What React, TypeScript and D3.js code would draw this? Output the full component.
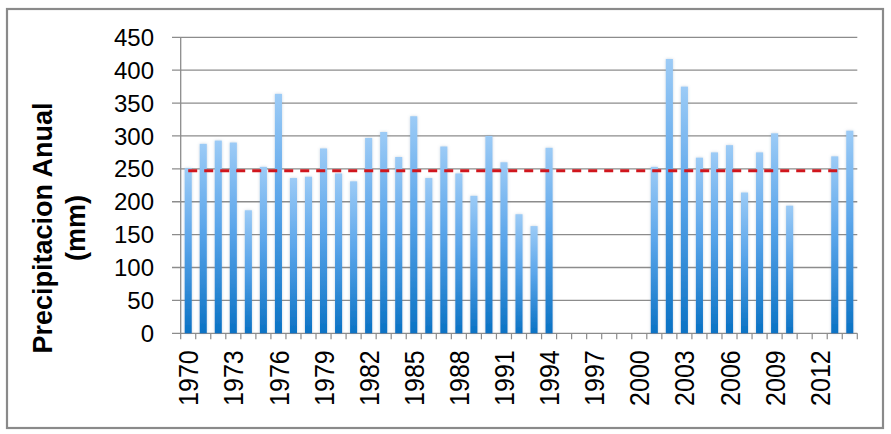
import React from 'react';
import * as d3 from 'd3';

const years: number[] = [
  1970, 1971, 1972, 1973, 1974, 1975, 1976, 1977, 1978, 1979,
  1980, 1981, 1982, 1983, 1984, 1985, 1986, 1987, 1988, 1989,
  1990, 1991, 1992, 1993, 1994, 1995, 1996, 1997, 1998, 1999,
  2000, 2001, 2002, 2003, 2004, 2005, 2006, 2007, 2008, 2009,
  2010, 2011, 2012, 2013, 2014,
];

const precip: (number | null)[] = [
  251, 288, 293, 290, 187, 253, 364, 236, 238, 281,
  243, 231, 297, 306, 268, 330, 236, 284, 243, 209,
  300, 260, 181, 163, 282, null, null, null, null, null,
  null, 253, 417, 375, 267, 275, 286, 214, 275, 304,
  194, null, null, 269, 308,
];

const meanValue = 247;

const xTickLabels: number[] = [1970, 1973, 1976, 1979, 1982, 1985, 1988, 1991, 1994, 1997, 2000, 2003, 2006, 2009, 2012];
const yTicks: number[] = [0, 50, 100, 150, 200, 250, 300, 350, 400, 450];

const FONT = '"Liberation Sans", Arial, sans-serif';

export default function App() {
  const W = 891;
  const H = 434;
  const left = 180.7;
  const right = 857.3;
  const top = 37.3;
  const bottom = 333.3;

  const x = d3.scaleBand<number>().domain(years).range([left, right]).paddingInner(0.53).paddingOuter(0.265);
  const y = d3.scaleLinear().domain([0, 450]).range([bottom, top]);
  const step = x.step();
  const bw = x.bandwidth();
  const center = (yr: number) => (x(yr) as number) + bw / 2;

  const boundaries = d3.range(years.length + 1).map((i) => left + i * step);
  const data = years.map((yr, i) => ({ yr, v: precip[i] })).filter((d) => d.v !== null) as { yr: number; v: number }[];

  return (
    <svg width={W} height={H} style={{ position: 'absolute', left: 0, top: 0, background: '#fff' }}>
      <defs>
        <linearGradient id="barGrad" x1="0" y1="0" x2="0" y2="1">
          <stop offset="0" stopColor="#9ccbf6" />
          <stop offset="0.45" stopColor="#5aa5ea" />
          <stop offset="1" stopColor="#0a72c4" />
        </linearGradient>
        <filter id="glow" x="-50%" y="-10%" width="200%" height="120%">
          <feDropShadow dx="0" dy="0" stdDeviation="1.4" floodColor="#5d7fa3" floodOpacity="0.35" />
        </filter>
      </defs>
      <rect x={0} y={0} width={W} height={H} fill="#fff" />
      <rect x={7} y={9} width={876} height={419} fill="#fff" stroke="#8a8a8a" strokeWidth={2.2} />

      {/* gridlines */}
      {yTicks.map((t) => (
        <line key={'g' + t} x1={172} x2={right} y1={y(t)} y2={y(t)} stroke="#8c8c8c" strokeWidth={1.3} />
      ))}
      {/* y axis */}
      <line x1={left} x2={left} y1={top} y2={bottom} stroke="#8c8c8c" strokeWidth={1.3} />
      {/* x ticks */}
      {boundaries.map((bx, i) => (
        <line key={'xt' + i} x1={bx} x2={bx} y1={bottom} y2={bottom + 6} stroke="#8c8c8c" strokeWidth={1.2} />
      ))}

      {/* bars */}
      <g filter="url(#glow)">
        {data.map((d) => (
          <rect key={d.yr} x={x(d.yr)} y={y(d.v)} width={bw} height={bottom - y(d.v)} fill="url(#barGrad)" />
        ))}
      </g>

      {/* mean line */}
      <line
        x1={center(years[0])}
        x2={center(years[years.length - 1]) - 7}
        y1={y(meanValue)}
        y2={y(meanValue)}
        stroke="#d0161d"
        strokeWidth={3}
        strokeDasharray="9,7"
      />

      {/* y tick labels */}
      {yTicks.map((t) => (
        <text key={'yl' + t} x={154} y={y(t)} dy="0.36em" textAnchor="end" fontFamily={FONT} fontSize={24} fill="#000">
          {t}
        </text>
      ))}

      {/* x tick labels */}
      {xTickLabels.map((yr) => (
        <text
          key={'xl' + yr}
          transform={`translate(${center(yr)},${bottom + 17}) rotate(-90) scale(1,1.12)`}
          dy="0.36em"
          textAnchor="end"
          fontFamily={FONT}
          fontSize={25}
          fill="#000"
        >
          {yr}
        </text>
      ))}

      {/* y title */}
      <text transform="translate(52,228) rotate(-90)" textAnchor="middle" fontFamily={FONT} fontSize={27} fontWeight="bold" fill="#000">
        <tspan x={0} y={0}>Precipitacion Anual</tspan>
        <tspan x={0} y={33}>(mm)</tspan>
      </text>
    </svg>
  );
}
